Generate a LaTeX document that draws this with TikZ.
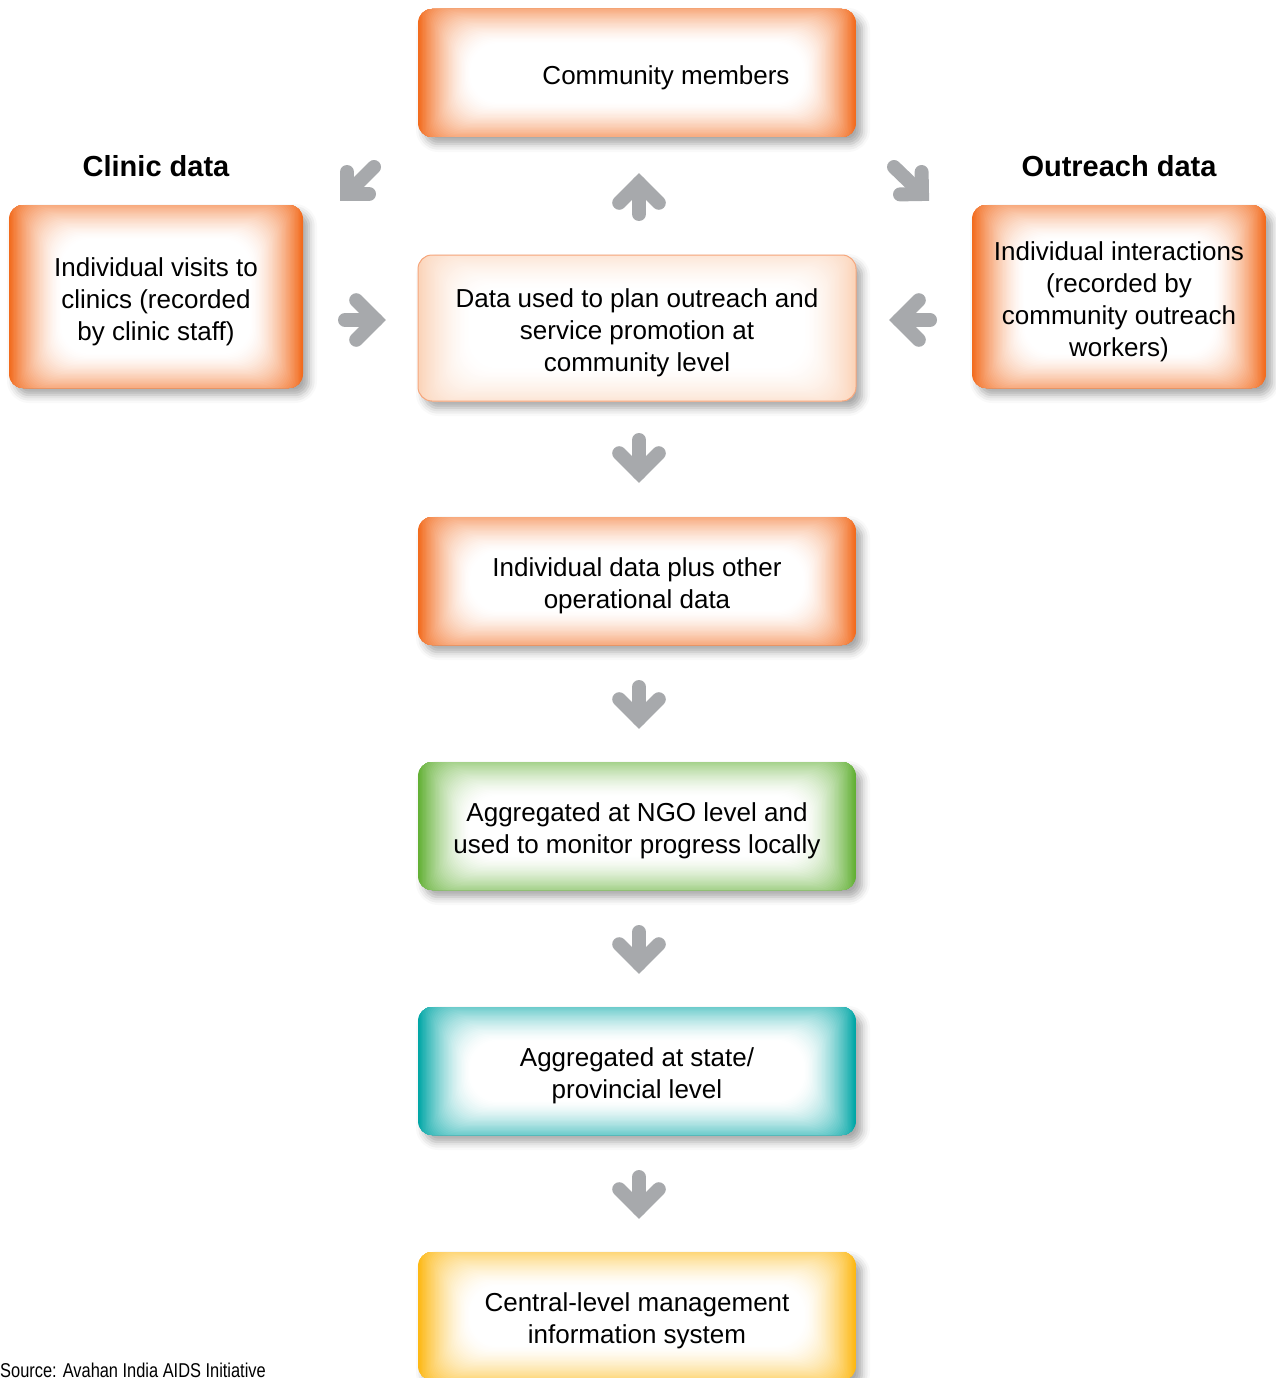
\documentclass[tikz,border=0pt]{standalone}
\usepackage{fontspec}
\setmainfont{Liberation Sans}
\newfontfamily\srcfont{Liberation Sans}[FakeStretch=0.82]
\usetikzlibrary{calc,shadows.blur}

\definecolor{boxorange}{HTML}{F26B1D}
\definecolor{boxgreen}{HTML}{62B034}
\definecolor{boxteal}{HTML}{00A6A6}
\definecolor{boxyellow}{HTML}{FDB813}
\definecolor{planedge}{HTML}{FBD3B8}
\definecolor{planline}{HTML}{F6A67C}
\definecolor{arrowgray}{HTML}{A7A9AC}

% soft rectangular glow: coloured rim fading to a white centre
\newcommand\glowfill[1]{%
  \foreach \k in {0,...,40}{%
    \pgfmathsetmacro\gt{\k/40}%
    \pgfmathsetmacro\ix{52*\gt}%
    \pgfmathsetmacro\iy{-16+50*\gt}%
    \pgfmathsetmacro\pc{100*(1-\gt)*sqrt(1-\gt)}%
    \pgfmathsetmacro\rr{16+12*\gt}%
    \fill[#1!\pc!white, rounded corners=\rr pt]
      ([shift={(\ix pt,\iy pt)}]path picture bounding box.south west)
      rectangle
      ([shift={(-\ix pt,-\iy pt)}]path picture bounding box.north east);
  }%
}

% thick grey block arrow from #2 to #3, barbs of length #1
\newcommand\blockarrow[3][28pt]{%
  \draw[grayarrow] (#2) -- (#3);
  \draw[grayarrow, line join=miter]
    ($(#3)!#1!45:(#2)$) -- (#3) -- ($(#3)!#1!-45:(#2)$);
}

\tikzset{
  glowbox/.style={
    rectangle, rounded corners=14pt, inner sep=0pt, outer sep=0pt,
    align=center, font=\fontsize{26}{32}\selectfont,
    blur shadow={shadow xshift=6pt, shadow yshift=-7pt,
                 shadow blur radius=8pt, shadow opacity=35},
    path picture={\glowfill{#1}}
  },
  % text block height for one to four lines of 32pt spacing
  oneline/.style={text height=29pt},
  twolines/.style={text height=61pt},
  threelines/.style={text height=93pt},
  fourlines/.style={text height=125pt},
  widebox/.style={minimum width=438pt, minimum height=128pt},
  sidebox/.style={minimum width=294pt, minimum height=183pt},
  heading/.style={inner sep=0pt, font=\fontsize{29}{34}\selectfont\bfseries},
  grayarrow/.style={draw=arrowgray, line width=14pt, line cap=round}
}

\begin{document}
\begin{tikzpicture}[x=1pt, y=-1pt]
\useasboundingbox (0,0) rectangle (1275,1378);

% central column
\node[glowbox=boxorange, widebox, oneline] (comm) at (637,73)
  {\hspace*{58pt}Community members};
\node[glowbox=planedge, widebox, threelines, minimum height=146pt,
      draw=planline, line width=1pt] (plan) at (637,328)
  {Data used to plan outreach and\\service promotion at\\community level};
\node[glowbox=boxorange, widebox, twolines] (indiv) at (637,581)
  {Individual data plus other\\operational data};
\node[glowbox=boxgreen, widebox, twolines] (ngo) at (637,826)
  {Aggregated at NGO level and\\used to monitor progress locally};
\node[glowbox=boxteal, widebox, twolines] (state) at (637,1071)
  {Aggregated at state/\\provincial level};
\node[glowbox=boxyellow, widebox, twolines] (central) at (637,1316)
  {Central-level management\\information system};

% side sources
\node[heading] (clinichead) at (156,166) {Clinic data};
\node[heading] (outhead) at (1119,166) {Outreach data};
\node[glowbox=boxorange, sidebox, threelines] (clinic) at (156,296.5)
  {Individual visits to\\clinics (recorded\\by clinic staff)};
\node[glowbox=boxorange, sidebox, fourlines] (outreach) at (1119,296.5)
  {Individual interactions\\(recorded by\\community outreach\\workers)};

\node[anchor=base west, inner sep=0pt, font=\fontsize{20}{24}\selectfont]
  (src) at (0,1377) {\srcfont Source: Avahan India AIDS Initiative};

% arrow end points
\coordinate (upT) at (639,214);   \coordinate (upH) at (639,183);
\coordinate (dlT) at (374,167);   \coordinate (dlH) at (347,194);
\coordinate (drT) at (894,167);   \coordinate (drH) at (922,194);
\coordinate (rT)  at (345,320);   \coordinate (rH)  at (376,320);
\coordinate (lT)  at (930,320);   \coordinate (lH)  at (899,320);
\coordinate (d1T) at (639,440);   \coordinate (d1H) at (639,473);
\coordinate (d2T) at (639,687);   \coordinate (d2H) at (639,719);
\coordinate (d3T) at (639,932);   \coordinate (d3H) at (639,964);
\coordinate (d4T) at (639,1177);  \coordinate (d4H) at (639,1209);

\blockarrow{upT}{upH}
\blockarrow[22pt]{dlT}{dlH}
\blockarrow[22pt]{drT}{drH}
\blockarrow{rT}{rH}
\blockarrow{lT}{lH}
\blockarrow{d1T}{d1H}
\blockarrow{d2T}{d2H}
\blockarrow{d3T}{d3H}
\blockarrow{d4T}{d4H}
\end{tikzpicture}
\end{document}
